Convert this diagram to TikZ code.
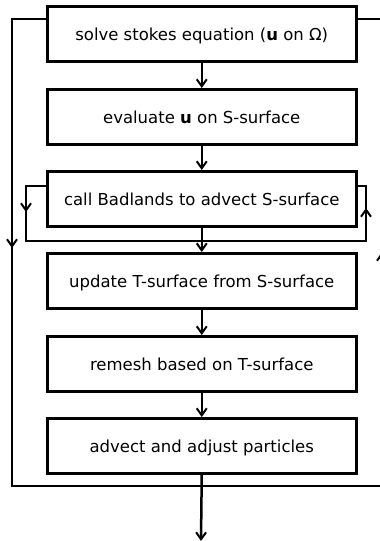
\documentclass[tikz,border=0pt]{standalone}
\usepackage{fontspec}
\setmainfont{DejaVu Sans}
\usetikzlibrary{arrows.meta}
\begin{document}
\begin{tikzpicture}[x=1pt,y=-1pt,
  stepbox/.style={draw, line width=2.5pt, minimum width=309pt, minimum height=55pt, inner sep=0pt, text height=15pt, text depth=2pt, font=\fontsize{16.5}{19}\selectfont, anchor=north west},
  conn/.style={line width=2.5pt, -{Straight Barb[length=7pt,width=10pt,line width=2pt]}},
  plain/.style={line width=2.5pt}]
\useasboundingbox (0,0) rectangle (380,541);
\node[stepbox] (b1) at (46,5) {solve stokes equation (\textbf{u} on Ω)};
\node[stepbox] (b2) at (46,88) {evaluate \textbf{u} on S-surface};
\node[stepbox] (b3) at (46,170) {call Badlands to advect S-surface};
\node[stepbox] (b4) at (46,252) {update T-surface from S-surface};
\node[stepbox] (b5) at (46,335) {remesh based on T-surface};
\node[stepbox] (b6) at (46,417) {advect and adjust particles};
\draw[conn] (b1) -- (b2);
\draw[conn] (b2) -- (b3);
\draw[conn] (b3) -- (b4);
\draw[conn] (b4) -- (b5);
\draw[conn] (b5) -- (b6);
\coordinate (end) at (201,541);
\draw[conn] (b6.south) -- (end);
% outer loop
\coordinate (ol) at (12,19);
\coordinate (olm) at (12,248);
\coordinate (olb) at (12,486);
\coordinate (orb) at (382,486);
\coordinate (orm) at (382,252);
\coordinate (ort) at (382,19);
\draw[plain] (b1.west |- ol) -- (ol) -- (olb) -- (orb) -- (ort) -- (b1.east |- ort);
\draw[conn] (ol) -- (olm);
\draw[conn] (orb) -- (orm);
% inner loop
\coordinate (il) at (26,186);
\coordinate (ilm) at (26,212);
\coordinate (ilb) at (26,241);
\coordinate (irb) at (366,241);
\coordinate (irm) at (366,208);
\coordinate (irt) at (366,186);
\draw[plain] (b3.west |- il) -- (il) -- (ilb) -- (irb) -- (irt) -- (b3.east |- irt);
\draw[conn] (il) -- (ilm);
\draw[conn] (irb) -- (irm);
\end{tikzpicture}
\end{document}
